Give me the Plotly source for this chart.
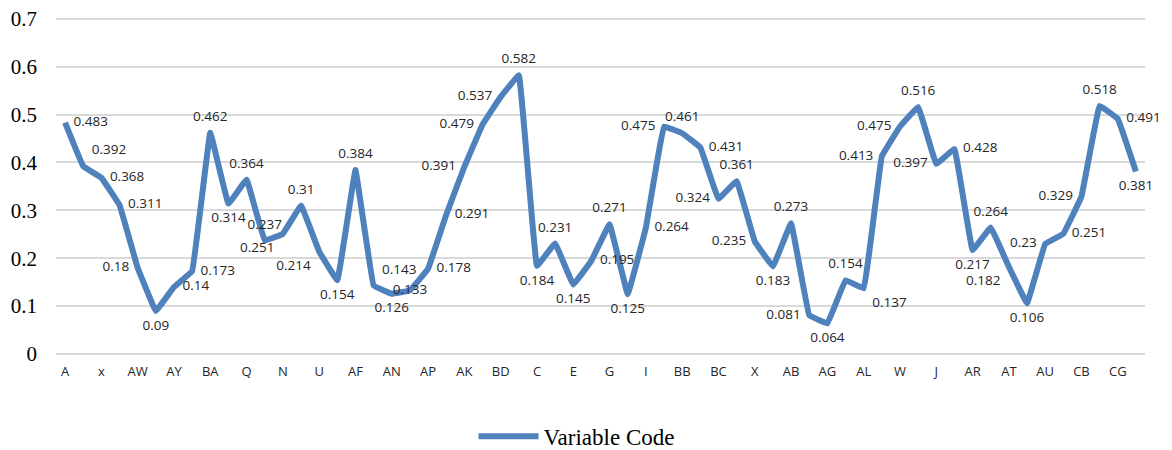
import plotly.graph_objects as go

tick_labels = ["A", "x", "AW", "AY", "BA", "Q", "N", "U", "AF", "AN",
               "AP", "AK", "BD", "C", "E", "G", "I", "BB", "BC", "X",
               "AB", "AG", "AL", "W", "J", "AR", "AT", "AU", "CB", "CG"]

values = [0.483, 0.392, 0.368, 0.311, 0.18, 0.09, 0.14, 0.173, 0.462, 0.314,
          0.364, 0.237, 0.251, 0.31, 0.214, 0.154, 0.384, 0.143, 0.126, 0.133,
          0.178, 0.291, 0.391, 0.479, 0.537, 0.582, 0.184, 0.231, 0.145, 0.195,
          0.271, 0.125, 0.264, 0.475, 0.461, 0.431, 0.324, 0.361, 0.235, 0.183,
          0.273, 0.081, 0.064, 0.154, 0.137, 0.413, 0.475, 0.516, 0.397, 0.428,
          0.217, 0.264, 0.182, 0.106, 0.23, 0.251, 0.329, 0.518, 0.491, 0.381]

y_ticks = [0, 0.1, 0.2, 0.3, 0.4, 0.5, 0.6, 0.7]
y_tick_text = ["0", "0.1", "0.2", "0.3", "0.4", "0.5", "0.6", "0.7"]

series_name = "Variable Code"

label_pos = ["middle right", "top right", "middle right", "middle right", "middle left",
             "bottom center", "middle right", "middle right", "top center", "bottom center",
             "top center", "top center", "bottom left", "top center", "bottom left",
             "bottom center", "top center", "top right", "bottom center", "middle center",
             "middle right", "middle right", "middle left", "middle left", "middle left",
             "top center", "bottom center", "top center", "bottom center", "middle right",
             "top center", "bottom center", "middle right", "middle left", "top center",
             "middle right", "middle left", "top center", "middle left", "bottom center",
             "top center", "middle left", "bottom center", "top center", "bottom right",
             "middle left", "middle left", "top center", "middle left", "middle right",
             "bottom center", "top center", "bottom left", "bottom center", "middle left",
             "middle right", "middle left", "top center", "middle right", "bottom center"]

x_idx = list(range(len(values)))
tick_idx = x_idx[::2]

fig = go.Figure()
fig.add_trace(go.Scatter(
    x=x_idx, y=values, name=series_name,
    mode="lines+markers+text",
    line=dict(color="#4F81BD", width=6, shape="spline", smoothing=0.15),
    marker=dict(size=12, color="rgba(0,0,0,0)"),
    text=[f"{v:g}" for v in values],
    textposition=label_pos,
    textfont=dict(family="Open Sans", size=13.5, color="#262626"),
    cliponaxis=False,
))

# page body has an 8px default margin, so the figure is sized to fit the window
fig.update_layout(
    width=1164, height=442,
    margin=dict(l=48, r=27, t=6, b=96, autoexpand=False),
    paper_bgcolor="white", plot_bgcolor="white",
    showlegend=True,
    legend=dict(orientation="h", x=0.478, xanchor="center",
                yref="container", y=0.031, yanchor="middle",
                font=dict(family="Liberation Serif", size=23, color="#000000"),
                itemwidth=60),
    xaxis=dict(range=[-0.5, len(values) - 0.5], tickmode="array",
               tickvals=tick_idx, ticktext=tick_labels, automargin=False,
               showgrid=False, zeroline=False, showline=False, ticks="",
               tickfont=dict(family="Open Sans", size=13, color="#262626"),
               ticklabelstandoff=8),
    yaxis=dict(range=[0, 0.71], tickmode="array", tickvals=y_ticks,
               ticktext=y_tick_text, automargin=False, ticklabeloverflow="allow",
               showgrid=True, gridcolor="#D9D9D9", gridwidth=1.5,
               zeroline=True, zerolinecolor="#D9D9D9", zerolinewidth=1.5,
               showline=False, ticks="",
               tickfont=dict(family="Liberation Serif", size=21, color="#000000"),
               ticklabelstandoff=18),
)

fig.write_html("out.html")
